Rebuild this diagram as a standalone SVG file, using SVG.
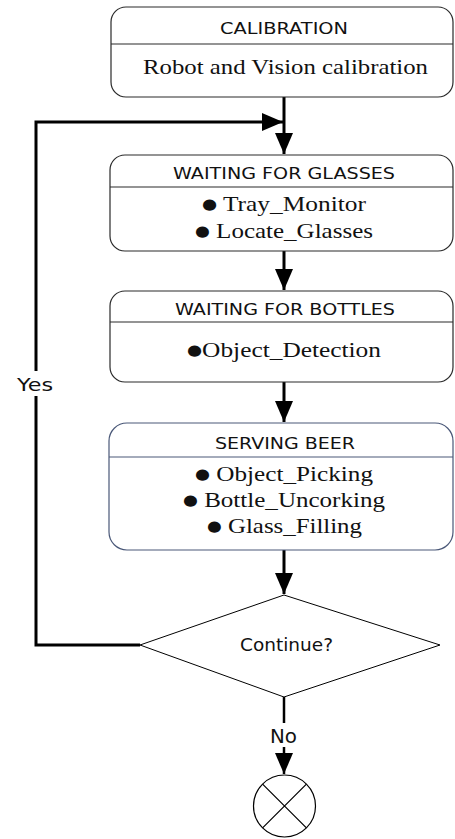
<svg xmlns="http://www.w3.org/2000/svg" width="455" height="839" viewBox="0 0 455 839">
<style>
.box{fill:#fff;stroke:#2a2a2a;stroke-width:1.2}
.box2{fill:#fff;stroke:#4a5878;stroke-width:1.2}
.div{stroke:#2a2a2a;stroke-width:1.2}
.div2{stroke:#4a5878;stroke-width:1.2}
.hd{font-family:"DejaVu Sans",sans-serif;font-size:16px;fill:#111}
.sf{font-family:"Liberation Serif","Times New Roman",serif;font-size:22px;fill:#111}
.bl{font-family:"DejaVu Sans",sans-serif;font-size:15px}
.lbl{font-family:"DejaVu Sans",sans-serif;font-size:18px;fill:#111}
.con{fill:none;stroke:#000;stroke-width:3}
</style>
<defs>
<marker id="ah" markerUnits="userSpaceOnUse" markerWidth="22" markerHeight="18" refX="21" refY="9" orient="auto">
<path d="M0,0 L21,9 L0,18 z" fill="#000"/>
</marker>
</defs>
<g id="connectors">
<path class="con" d="M284,97 V154" marker-end="url(#ah)"/>
<path class="con" d="M140,645 H36 V122 H283" marker-end="url(#ah)"/>
<path class="con" d="M284,251 V290" marker-end="url(#ah)"/>
<path class="con" d="M284,382 V422" marker-end="url(#ah)"/>
<path class="con" d="M284,550 V594" marker-end="url(#ah)"/>
<path class="con" style="stroke-width:2.5" d="M284,697 V774" marker-end="url(#ah)"/>
<rect x="15" y="371" width="42" height="25" fill="#fff"/>
<text class="lbl" x="17" y="391" textLength="36" lengthAdjust="spacingAndGlyphs">Yes</text>
<rect x="268" y="723" width="32" height="24" fill="#fff"/>
<text class="lbl" x="270" y="743" style="font-size:19px" textLength="27" lengthAdjust="spacingAndGlyphs">No</text>
</g>
<g id="calibration">
<rect class="box" x="111" y="7" width="342" height="90" rx="15"/>
<line class="div" x1="111" y1="44" x2="453" y2="44"/>
<text class="hd" x="220" y="34" textLength="128" lengthAdjust="spacingAndGlyphs">CALIBRATION</text>
<text class="sf" x="143" y="74" textLength="285" lengthAdjust="spacingAndGlyphs">Robot and Vision calibration</text>
</g>
<g id="waiting-glasses">
<rect class="box" x="110" y="155" width="343" height="96" rx="15"/>
<line class="div" x1="110" y1="187" x2="453" y2="187"/>
<text class="hd" x="173" y="179" textLength="222" lengthAdjust="spacingAndGlyphs">WAITING FOR GLASSES</text>
<text class="sf" x="202" y="211" textLength="164" lengthAdjust="spacingAndGlyphs"><tspan class="bl" dy="-2.5">●</tspan><tspan dy="2.5"> Tray_Monitor</tspan></text>
<text class="sf" x="195" y="238" textLength="178" lengthAdjust="spacingAndGlyphs"><tspan class="bl" dy="-2.5">●</tspan><tspan dy="2.5"> Locate_Glasses</tspan></text>
</g>
<g id="waiting-bottles">
<rect class="box" x="110" y="291" width="343" height="91" rx="15"/>
<line class="div" x1="110" y1="322" x2="453" y2="322"/>
<text class="hd" x="175" y="315" textLength="220" lengthAdjust="spacingAndGlyphs">WAITING FOR BOTTLES</text>
<text class="sf" x="187" y="357" textLength="194" lengthAdjust="spacingAndGlyphs"><tspan class="bl" dy="-2.5">●</tspan><tspan dy="2.5">Object_Detection</tspan></text>
</g>
<g id="serving-beer">
<rect class="box2" x="109" y="423" width="344" height="127" rx="18"/>
<line class="div2" x1="109" y1="457" x2="453" y2="457"/>
<text class="hd" x="215" y="449" textLength="140" lengthAdjust="spacingAndGlyphs">SERVING BEER</text>
<text class="sf" x="195" y="481" textLength="178" lengthAdjust="spacingAndGlyphs"><tspan class="bl" dy="-2.5">●</tspan><tspan dy="2.5"> Object_Picking</tspan></text>
<text class="sf" x="183" y="507" textLength="202" lengthAdjust="spacingAndGlyphs"><tspan class="bl" dy="-2.5">●</tspan><tspan dy="2.5"> Bottle_Uncorking</tspan></text>
<text class="sf" x="207" y="533" textLength="155" lengthAdjust="spacingAndGlyphs"><tspan class="bl" dy="-2.5">●</tspan><tspan dy="2.5"> Glass_Filling</tspan></text>
</g>
<g id="continue">
<polygon points="284,595 440,645 284,697 140,645" fill="#fff" stroke="#000" stroke-width="1"/>
<text class="lbl" x="240" y="651" textLength="93" lengthAdjust="spacingAndGlyphs">Continue?</text>
</g>
<g id="end">
<circle cx="284.5" cy="806" r="31" fill="#fff" stroke="#000" stroke-width="1.2"/>
<path d="M262.6,784.1 L306.4,827.9 M306.4,784.1 L262.6,827.9" stroke="#000" stroke-width="1.2"/>
</g>
</svg>
